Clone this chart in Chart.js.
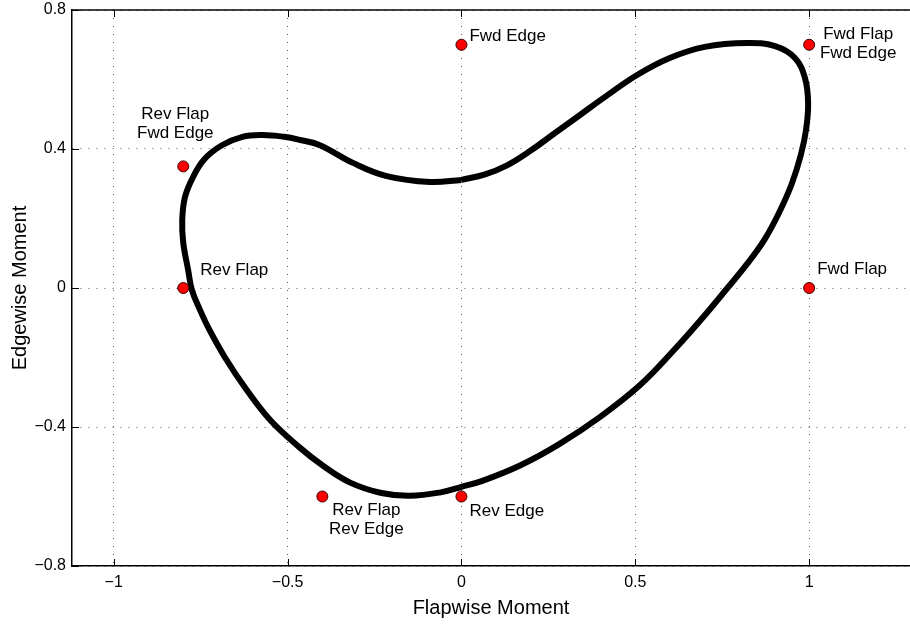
<!DOCTYPE html>
<html>
<head>
<meta charset="utf-8">
<script src="https://cdn.jsdelivr.net/npm/chart.js@4"></script>
<style>
  html, body { margin: 0; padding: 0; background: #fff; }
  #wrap { width: 910px; height: 624px; }
</style>
</head>
<body>
<div id="wrap"><canvas id="loadChart"></canvas></div>
<script>
// moment loop (flapwise, edgewise)
const loopX = [0.00, 0.068, 0.131, 0.197, 0.269, 0.341, 0.413, 0.505, 0.599, 0.70, 0.821, 0.902, 0.959, 0.988, 0.997, 0.991, 0.976, 0.950, 0.915, 0.872, 0.822, 0.765, 0.69, 0.61, 0.513, 0.40, 0.28, 0.17, 0.06, 0.0, -0.06, -0.148, -0.23, -0.32, -0.40, -0.47, -0.55, -0.62, -0.68, -0.725, -0.752, -0.775, -0.786, -0.80, -0.803, -0.795, -0.772, -0.74, -0.69, -0.63, -0.571, -0.51, -0.464, -0.407, -0.312, -0.215, -0.09, 0.00];
const loopY = [0.311, 0.327, 0.353, 0.394, 0.446, 0.498, 0.55, 0.613, 0.662, 0.694, 0.705, 0.696, 0.662, 0.604, 0.532, 0.455, 0.383, 0.30, 0.22, 0.14, 0.07, 0.0, -0.09, -0.18, -0.28, -0.37, -0.45, -0.51, -0.555, -0.572, -0.588, -0.598, -0.59, -0.56, -0.51, -0.455, -0.38, -0.29, -0.20, -0.12, -0.063, -0.006, 0.052, 0.13, 0.196, 0.262, 0.319, 0.37, 0.41, 0.435, 0.44, 0.435, 0.426, 0.411, 0.36, 0.322, 0.305, 0.311];

// reference load points
const markerX = [0, 1, -0.8, -0.8, 1, -0.4, 0];
const markerY = [0.7, 0.7, 0.35, 0, 0, -0.6, -0.6];
const markerLabels = ["Fwd Edge", "Fwd Flap\nFwd Edge", "Rev Flap\nFwd Edge", "Rev Flap", "Fwd Flap", "Rev Flap\nRev Edge", "Rev Edge"];

const xTicks = [-1, -0.5, 0, 0.5, 1];
const yTicks = [-0.8, -0.4, 0, 0.4, 0.8];

const FONT = "'Liberation Sans', Arial, Helvetica, sans-serif";

// label placement: [dx, dy, align] relative to the marker, in px
const labelPlace = [
  [8, -8, "left"],
  [49, -10, "center"],
  [-8, -52, "center"],
  [17, -18, "left"],
  [8, -19, "left"],
  [44, 14, "center"],
  [8, 15, "left"]
];

const fmt = (v) => String(v).replace("-", "\u2212");

const pointLabels = {
  id: "pointLabels",
  afterDatasetsDraw(chart) {
    const { ctx, scales, chartArea } = chart;
    const xs = scales.x, ys = scales.y;
    ctx.save();

    // top border
    ctx.strokeStyle = "#000";
    ctx.lineWidth = 1.5;
    ctx.beginPath();
    ctx.moveTo(chartArea.left, chartArea.top);
    ctx.lineTo(chartArea.right, chartArea.top);
    ctx.stroke();

    // inward tick marks
    ctx.lineWidth = 1;
    xTicks.forEach((v) => {
      const px = Math.round(xs.getPixelForValue(v)) + 0.5;
      ctx.beginPath();
      ctx.moveTo(px, chartArea.bottom);
      ctx.lineTo(px, chartArea.bottom - 7);
      ctx.moveTo(px, chartArea.top);
      ctx.lineTo(px, chartArea.top + 7);
      ctx.stroke();
    });
    yTicks.forEach((v) => {
      const py = Math.round(ys.getPixelForValue(v)) + 0.5;
      ctx.beginPath();
      ctx.moveTo(chartArea.left, py);
      ctx.lineTo(chartArea.left + 7, py);
      ctx.stroke();
    });

    // labels
    ctx.fillStyle = "#000";
    ctx.font = "17px " + FONT;
    ctx.textBaseline = "middle";
    markerLabels.forEach((txt, i) => {
      const px = xs.getPixelForValue(markerX[i]);
      const py = ys.getPixelForValue(markerY[i]);
      const [dx, dy, align] = labelPlace[i];
      ctx.textAlign = align;
      txt.split("\n").forEach((line, j) => {
        ctx.fillText(line, px + dx, py + dy + j * 19);
      });
    });
    ctx.restore();
  }
};

new Chart(document.getElementById("loadChart"), {
  type: "scatter",
  data: {
    datasets: [
      {
        label: "Load cases",
        data: markerX.map((x, i) => ({ x: x, y: markerY[i] })),
        pointRadius: 5.5,
        pointBackgroundColor: "#ff0000",
        pointBorderColor: "#3a0000",
        pointBorderWidth: 1,
        showLine: false
      },
      {
        label: "Moment loop",
        data: loopX.map((x, i) => ({ x: x, y: loopY[i] })),
        showLine: true,
        borderColor: "#000",
        borderWidth: 6,
        tension: 0.4,
        pointRadius: 0
      }
    ]
  },
  options: {
    responsive: true,
    maintainAspectRatio: false,
    animation: false,
    layout: { autoPadding: false, padding: { top: 10, left: 0, right: 0, bottom: 0 } },
    plugins: {
      legend: { display: false },
      tooltip: { enabled: false }
    },
    scales: {
      x: {
        type: "linear",
        min: -1.12,
        max: 1.29,
        afterBuildTicks: (scale) => { scale.ticks = xTicks.map((v) => ({ value: v })); },
        afterFit: (scale) => {
          scale.height = 58;
          scale.paddingLeft = 0;
          scale.paddingRight = 0;
        },
        grid: { color: "#555", lineWidth: 1, drawTicks: false },
        border: { color: "#000", width: 1.5, dash: [1, 7] },
        ticks: {
          padding: 7,
          color: "#000",
          font: { size: 16, family: FONT },
          maxRotation: 0,
          callback: (v) => fmt(v)
        },
        title: {
          display: true,
          text: "Flapwise Moment",
          color: "#000",
          font: { size: 20, family: FONT },
          padding: { top: 4, bottom: 4 }
        }
      },
      y: {
        type: "linear",
        min: -0.8,
        max: 0.8,
        afterBuildTicks: (scale) => { scale.ticks = yTicks.map((v) => ({ value: v })); },
        afterFit: (scale) => {
          scale.width = 72;
          scale.paddingTop = 0;
          scale.paddingBottom = 0;
        },
        grid: { color: "#555", lineWidth: 1, drawTicks: false },
        border: { color: "#000", width: 1.5, dash: [1, 7] },
        ticks: {
          padding: 6,
          color: "#000",
          font: { size: 16, family: FONT },
          callback: (v) => fmt(v)
        },
        title: {
          display: true,
          text: "Edgewise Moment",
          color: "#000",
          font: { size: 20, family: FONT },
          padding: { top: 8, bottom: 0 }
        }
      }
    }
  },
  plugins: [pointLabels]
});
</script>
</body>
</html>
